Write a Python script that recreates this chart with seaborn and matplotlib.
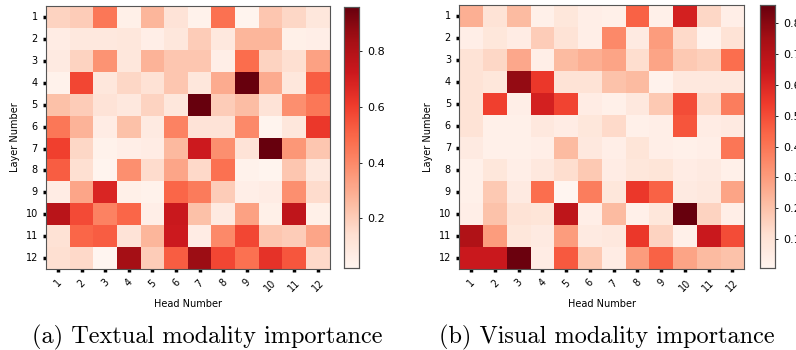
import seaborn as sns
import matplotlib.pyplot as plt
import numpy as np
import pandas as pd

heads = list(range(1, 13))
layers = list(range(1, 13))

# textual modality importance (rows = layers, cols = heads)
textual = [
    [0.18, 0.20, 0.45, 0.05, 0.27, 0.12, 0.04, 0.47, 0.03, 0.22, 0.17, 0.10],
    [0.07, 0.09, 0.09, 0.10, 0.06, 0.10, 0.20, 0.09, 0.27, 0.27, 0.05, 0.06],
    [0.08, 0.18, 0.37, 0.10, 0.28, 0.22, 0.22, 0.06, 0.48, 0.18, 0.14, 0.33],
    [0.04, 0.58, 0.10, 0.17, 0.13, 0.22, 0.10, 0.30, 0.96, 0.30, 0.10, 0.52],
    [0.24, 0.20, 0.12, 0.09, 0.18, 0.10, 0.96, 0.20, 0.25, 0.12, 0.38, 0.45],
    [0.45, 0.28, 0.07, 0.24, 0.08, 0.42, 0.12, 0.12, 0.40, 0.03, 0.10, 0.62],
    [0.60, 0.17, 0.04, 0.06, 0.07, 0.26, 0.72, 0.38, 0.12, 0.96, 0.36, 0.22],
    [0.52, 0.14, 0.03, 0.38, 0.15, 0.32, 0.16, 0.47, 0.04, 0.03, 0.22, 0.09],
    [0.07, 0.32, 0.68, 0.05, 0.04, 0.50, 0.44, 0.20, 0.06, 0.07, 0.38, 0.15],
    [0.78, 0.57, 0.42, 0.50, 0.06, 0.73, 0.24, 0.08, 0.33, 0.05, 0.76, 0.05],
    [0.13, 0.50, 0.52, 0.12, 0.27, 0.72, 0.07, 0.40, 0.58, 0.22, 0.20, 0.32],
    [0.14, 0.16, 0.02, 0.84, 0.20, 0.52, 0.86, 0.58, 0.47, 0.64, 0.54, 0.16],
]

# visual modality importance
visual = [
    [0.25, 0.10, 0.22, 0.03, 0.08, 0.04, 0.03, 0.45, 0.03, 0.62, 0.14, 0.04],
    [0.04, 0.08, 0.05, 0.17, 0.10, 0.04, 0.35, 0.06, 0.30, 0.13, 0.02, 0.10],
    [0.10, 0.14, 0.27, 0.04, 0.22, 0.25, 0.28, 0.12, 0.28, 0.18, 0.16, 0.42],
    [0.10, 0.08, 0.78, 0.55, 0.10, 0.10, 0.20, 0.22, 0.02, 0.07, 0.07, 0.07],
    [0.10, 0.53, 0.04, 0.62, 0.52, 0.05, 0.03, 0.07, 0.18, 0.50, 0.13, 0.38],
    [0.10, 0.03, 0.03, 0.07, 0.05, 0.08, 0.13, 0.03, 0.04, 0.48, 0.05, 0.06],
    [0.06, 0.03, 0.03, 0.04, 0.22, 0.07, 0.04, 0.09, 0.04, 0.03, 0.04, 0.40],
    [0.03, 0.08, 0.04, 0.07, 0.12, 0.18, 0.05, 0.08, 0.09, 0.05, 0.06, 0.03],
    [0.03, 0.18, 0.06, 0.42, 0.005, 0.38, 0.08, 0.55, 0.45, 0.06, 0.07, 0.28],
    [0.04, 0.20, 0.10, 0.09, 0.68, 0.04, 0.22, 0.03, 0.08, 0.86, 0.15, 0.04],
    [0.72, 0.30, 0.08, 0.06, 0.30, 0.06, 0.07, 0.55, 0.15, 0.03, 0.65, 0.50],
    [0.65, 0.65, 0.85, 0.05, 0.47, 0.18, 0.05, 0.30, 0.45, 0.28, 0.22, 0.20],
]

captions = ["(a) Textual modality importance", "(b) Visual modality importance"]

fig = plt.figure(figsize=(7.96, 3.5), dpi=100)

ax_pos = [[0.058, 0.231, 0.356, 0.752], [0.577, 0.231, 0.358, 0.755]]
cb_pos = [[0.432, 0.234, 0.019, 0.746], [0.955, 0.234, 0.018, 0.752]]
cb_ticks = [[0.2, 0.4, 0.6, 0.8], [0.1, 0.2, 0.3, 0.4, 0.5, 0.6, 0.7, 0.8]]
cap_x = [0.26, 0.762]

for i, data in enumerate([textual, visual]):
    df = pd.DataFrame(data, index=layers, columns=heads)
    ax = fig.add_axes(ax_pos[i])
    cax = fig.add_axes(cb_pos[i])
    sns.heatmap(df, ax=ax, cbar_ax=cax, cmap="Reds", square=False)
    ax.set_xlabel("Head Number", fontsize=7)
    ax.set_ylabel("Layer Number", fontsize=7)
    ax.tick_params(axis="both", length=2.5, width=2.5, color="black", labelsize=7)
    plt.setp(ax.get_xticklabels(), rotation=45)
    plt.setp(ax.get_yticklabels(), rotation=0)
    for s in ax.spines.values():
        s.set_visible(True)
        s.set_color("#555555")
        s.set_linewidth(0.8)
    cax.set_yticks(cb_ticks[i])
    cax.tick_params(labelsize=8, length=2.5, width=0.6)
    for s in cax.spines.values():
        s.set_visible(True)
        s.set_color("#555555")
        s.set_linewidth(0.8)
    fig.text(cap_x[i], 0.037, captions[i], ha="center", va="center",
             fontsize=17.5, family="cmr10")

fig.savefig("out.png", dpi=100)
